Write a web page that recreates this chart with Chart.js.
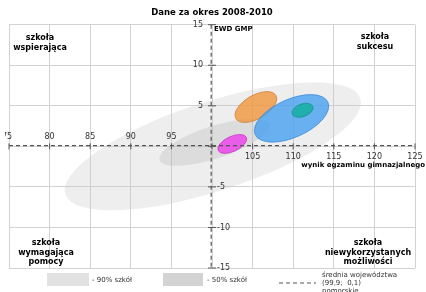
<!DOCTYPE html>
<html>
<head>
<meta charset="utf-8">
<script src="https://cdn.jsdelivr.net/npm/chart.js@4.4.0/dist/chart.umd.min.js"></script>
<style>
body { margin: 0; background: #fff; }
</style>
</head>
<body>
<canvas id="ewd-chart" width="426" height="292"></canvas>
<script>
// OSIE
const xTicks = [75, 80, 85, 90, 95, 100, 105, 110, 115, 120, 125];
const yTicks = [-15, -10, -5, 0, 5, 10, 15];
const xTickLabels = ['75', '80', '85', '90', '95', '', '105', '110', '115', '120', '125'];
const yTickLabels = ['-15', '-10', '-5', '', '5', '10', '15'];

// SREDNIA WOJEWODZTWA
const averageX = 99.9;
const averageY = 0.1;

// ELIPSY - srodek, polosie (w punktach) i kat nachylenia
const ellipseNames = ['90% szkół', '50% szkół', 'wynik 1', 'wynik 2', 'wynik 3', 'wynik 4'];
const ellipseX = [100.1, 100.3, 105.4, 109.8, 102.5, 111.15];
const ellipseY = [0.0, 0.5, 4.85, 3.45, 0.3, 4.45];
const ellipseRx = [19.1, 7.1, 2.85, 4.9, 1.92, 1.35];
const ellipseRy = [5.5, 2.0, 1.45, 2.35, 0.93, 0.78];
const ellipseAngle = [18, 18, 30, 24, 25, 20];

// KOLORY
const ellipseFill = ['rgba(200,200,200,0.3)', 'rgba(170,170,170,0.26)', 'rgba(240,150,60,0.8)',
	'rgba(70,160,240,0.8)', 'rgba(235,70,235,0.85)', 'rgba(20,175,160,0.85)'];
const ellipseStroke = [null, null, 'rgba(200,120,40,0.7)', 'rgba(50,130,210,0.7)',
	'rgba(190,50,190,0.7)', 'rgba(20,140,130,0.7)'];

const FONT = '"DejaVu Sans", sans-serif';

const datasets = ellipseNames.map((name, i) => ({
	label: name,
	data: [{ x: ellipseX[i], y: ellipseY[i] }],
	rx: ellipseRx[i],
	ry: ellipseRy[i],
	angle: ellipseAngle[i],
	fillColor: ellipseFill[i],
	strokeColor: ellipseStroke[i],
	pointRadius: 0,
	pointHoverRadius: 0
}));

const ellipsePlugin = {
	id: 'ellipses',
	beforeDatasetsDraw(chart) {
		const { ctx, chartArea, scales: { x, y } } = chart;
		ctx.save();
		ctx.beginPath();
		ctx.rect(chartArea.left, chartArea.top, chartArea.right - chartArea.left, chartArea.bottom - chartArea.top);
		ctx.clip();
		chart.data.datasets.forEach(ds => {
			const p = ds.data[0];
			const cx = x.getPixelForValue(p.x);
			const cy = y.getPixelForValue(p.y);
			const rx = Math.abs(x.getPixelForValue(p.x + ds.rx) - cx);
			const ry = Math.abs(y.getPixelForValue(p.y + ds.ry) - cy);
			ctx.beginPath();
			ctx.ellipse(cx, cy, rx, ry, -ds.angle * Math.PI / 180, 0, 2 * Math.PI);
			ctx.fillStyle = ds.fillColor;
			ctx.fill();
			if (ds.strokeColor) {
				ctx.lineWidth = 1;
				ctx.strokeStyle = ds.strokeColor;
				ctx.stroke();
			}
		});
		ctx.restore();
	},
	afterDatasetsDraw(chart) {
		const { ctx, chartArea, scales: { x, y } } = chart;
		const ax = x.getPixelForValue(100);
		const ay = y.getPixelForValue(0);
		ctx.save();

		// linie sredniej
		ctx.strokeStyle = '#555';
		ctx.lineWidth = 1.2;
		ctx.setLineDash([4, 3]);
		ctx.beginPath();
		ctx.moveTo(x.getPixelForValue(averageX), chartArea.top);
		ctx.lineTo(x.getPixelForValue(averageX), chartArea.bottom);
		ctx.moveTo(chartArea.left, y.getPixelForValue(averageY));
		ctx.lineTo(chartArea.right, y.getPixelForValue(averageY));
		ctx.stroke();
		ctx.setLineDash([]);

		// znaczniki i opisy osi (lewy opis przyciety jak w oryginale)
		ctx.lineWidth = 1;
		ctx.strokeStyle = '#555';
		ctx.fillStyle = '#333';
		ctx.font = '8px ' + FONT;
		ctx.textAlign = 'center';
		ctx.textBaseline = 'middle';
		ctx.save();
		ctx.beginPath();
		ctx.rect(chartArea.left - 4, 0, chart.width, chart.height);
		ctx.clip();
		xTicks.forEach((v, i) => {
			const px = x.getPixelForValue(v);
			ctx.beginPath();
			ctx.moveTo(px, ay - 3);
			ctx.lineTo(px, ay + 3);
			ctx.stroke();
			if (!xTickLabels[i]) return;
			ctx.fillText(xTickLabels[i], v === 75 ? px - 2 : px, v < 100 ? ay - 9 : ay + 11);
		});
		ctx.restore();
		yTicks.forEach((v, i) => {
			const py = y.getPixelForValue(v);
			ctx.beginPath();
			ctx.moveTo(ax - 4, py);
			ctx.lineTo(ax + 4, py);
			ctx.stroke();
			if (!yTickLabels[i]) return;
			if (v > 0) {
				ctx.textAlign = 'right';
				ctx.fillText(yTickLabels[i], ax - 9, py);
			} else {
				ctx.textAlign = 'left';
				ctx.fillText(yTickLabels[i], ax + 5, py);
			}
		});

		// nazwy osi
		ctx.fillStyle = '#000';
		ctx.font = 'bold 7px ' + FONT;
		ctx.textAlign = 'left';
		ctx.fillText('EWD GMP', ax + 2, chartArea.top + 4);
		ctx.textAlign = 'right';
		ctx.fillText('wynik egzaminu gimnazjalnego', chart.width - 1, ay + 19);

		// cwiartki
		ctx.font = 'bold 8px ' + FONT;
		ctx.textAlign = 'center';
		const quad = (lines, cx, cy) => lines.forEach((t, k) => ctx.fillText(t, cx, cy + k * 9.5));
		quad(['szkoła', 'wspierająca'], chartArea.left + 31, chartArea.top + 13.5);
		quad(['szkoła', 'sukcesu'], chartArea.right - 40, chartArea.top + 12.5);
		quad(['szkoła', 'wymagająca', 'pomocy'], chartArea.left + 37, chartArea.bottom - 25);
		quad(['szkoła', 'niewykorzystanych', 'możliwości'], chartArea.right - 47, chartArea.bottom - 25);

		// legenda
		const ly = chartArea.bottom + 12;
		ctx.fillStyle = '#e2e2e2';
		ctx.fillRect(47, ly - 7, 42, 13);
		ctx.fillStyle = '#d3d3d3';
		ctx.fillRect(163, ly - 7, 40, 13);
		ctx.fillStyle = '#333';
		ctx.font = '7px ' + FONT;
		ctx.textAlign = 'left';
		ctx.fillText('- ' + ellipseNames[0], 92, ly);
		ctx.fillText('- ' + ellipseNames[1], 207, ly);
		ctx.strokeStyle = '#555';
		ctx.setLineDash([4, 3]);
		ctx.beginPath();
		ctx.moveTo(279, ly + 3);
		ctx.lineTo(316, ly + 3);
		ctx.stroke();
		ctx.setLineDash([]);
		ctx.fillText('średnia województwa', 322, ly - 5);
		ctx.fillText('(99,9;  0,1)', 322, ly + 3);
		ctx.fillText('pomorskie', 322, ly + 11);

		ctx.restore();
	}
};

new Chart(document.getElementById('ewd-chart'), {
	type: 'scatter',
	data: { datasets: datasets },
	options: {
		responsive: false,
		animation: false,
		layout: { padding: { left: 9, right: 11, bottom: 24 } },
		plugins: {
			legend: { display: false },
			tooltip: { enabled: false },
			title: {
				display: true,
				text: 'Dane za okres 2008-2010',
				color: '#000',
				font: { family: FONT, size: 8.5, weight: 'bold' },
				padding: { top: 8, bottom: 6.5 }
			}
		},
		scales: {
			x: {
				type: 'linear', min: 75, max: 125,
				ticks: { display: false, stepSize: 5 },
				grid: { color: '#d2d2d2', drawTicks: false },
				border: { display: false }
			},
			y: {
				type: 'linear', min: -15, max: 15,
				ticks: { display: false, stepSize: 5 },
				grid: { color: '#d2d2d2', drawTicks: false },
				border: { display: false }
			}
		}
	},
	plugins: [ellipsePlugin]
});
</script>
</body>
</html>
